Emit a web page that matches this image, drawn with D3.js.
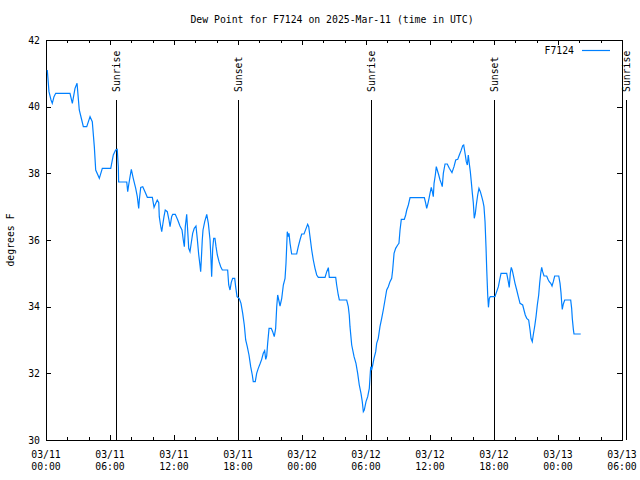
<!DOCTYPE html>
<html>
<head>
<meta charset="utf-8">
<script src="https://cdn.jsdelivr.net/npm/d3@7"></script>
<style>
  html, body { margin: 0; padding: 0; background: #fff; }
  svg { display: block; }
  text { font-family: "DejaVu Sans Mono", "Liberation Mono", monospace; font-size: 9.8px; fill: #000; }
</style>
</head>
<body>
<svg id="chart" width="640" height="480"></svg>
<script>
// ---- data ----
const title = "Dew Point for F7124 on 2025-Mar-11 (time in UTC)";
const yLabel = "degrees F";
const seriesName = "F7124";
const startTime = "2025-03-11T00:00:00Z";
const endTime = "2025-03-13T06:00:00Z";
// hours since 2025-03-11 00:00 UTC
const hours = [0.12,0.28,0.47,0.59,0.75,0.91,2.25,2.47,2.72,2.91,3.12,3.35,3.50,3.82,4.13,4.34,4.53,4.66,5.00,5.28,
  6.07,6.31,6.53,6.68,6.78,6.81,7.57,7.66,7.75,7.88,8.00,8.18,8.41,8.56,8.69,8.75,8.88,9.07,9.28,9.50,
  9.97,10.13,10.22,10.43,10.57,10.62,10.75,10.85,10.94,11.06,11.18,11.37,11.53,11.63,11.78,11.88,12.12,12.35,12.56,12.75,
  12.87,12.97,13.06,13.19,13.28,13.38,13.50,13.59,13.75,13.90,14.06,14.18,14.32,14.44,14.50,14.56,14.65,14.72,14.88,15.07,
  15.22,15.38,15.47,15.53,15.63,15.72,15.84,15.94,16.06,16.22,16.38,16.53,17.03,17.13,17.25,17.37,17.50,17.69,17.78,17.91,
  18.12,18.28,18.44,18.59,18.72,18.87,19.03,19.19,19.34,19.43,19.62,19.75,19.90,20.06,20.22,20.37,20.50,20.60,20.69,20.78,
  20.91,21.12,21.25,21.40,21.53,21.63,21.72,21.82,21.94,22.10,22.25,22.41,22.50,22.62,22.72,22.78,22.88,23.03,23.50,23.65,
  23.81,23.97,24.19,24.35,24.53,24.63,24.75,24.91,25.06,25.22,25.38,25.53,26.16,26.32,26.47,26.56,27.16,27.25,27.40,27.50,
  28.19,28.34,28.43,28.50,28.66,28.88,29.06,29.22,29.37,29.53,29.65,29.75,29.84,30.00,30.16,30.31,30.44,30.53,30.63,30.75,
  30.91,31.00,31.15,31.31,31.47,31.62,31.78,31.94,32.09,32.25,32.41,32.50,32.63,32.78,32.97,33.09,33.19,33.31,33.59,33.72,
  33.82,33.97,34.13,35.47,35.60,35.69,35.81,35.91,36.00,36.12,36.22,36.31,36.38,36.50,36.59,36.68,36.82,36.94,37.06,37.15,
  37.25,37.41,37.62,37.81,38.06,38.25,38.41,38.60,38.75,38.91,39.07,39.16,39.31,39.40,39.50,39.59,39.68,39.78,39.87,39.97,
  40.06,40.15,40.25,40.34,40.47,40.59,40.72,40.85,40.97,41.06,41.16,41.25,41.32,41.41,41.48,41.56,41.65,42.09,42.25,42.41,
  42.53,42.66,43.19,43.34,43.43,43.53,43.62,43.72,43.84,43.97,44.13,44.28,44.44,44.69,44.81,44.93,45.07,45.25,45.38,45.47,
  45.59,45.68,45.82,45.94,46.06,46.19,46.28,46.38,46.47,46.56,46.69,46.94,47.06,47.18,47.32,47.44,47.56,47.69,48.07,48.19,
  48.28,48.35,48.40,48.50,48.63,49.19,49.28,49.34,49.44,49.50,50.13];
const dewF = [41.1,40.45,40.2,40.1,40.3,40.4,40.4,40.1,40.55,40.7,39.9,39.6,39.4,39.4,39.7,39.55,38.8,38.1,37.85,38.15,
  38.15,38.55,38.7,38.72,38.2,37.74,37.74,37.45,37.65,37.9,38.12,37.85,37.55,37.3,36.95,37.2,37.58,37.6,37.45,37.28,
  37.28,36.98,37.05,37.2,37.12,36.7,36.42,36.25,36.45,36.7,36.9,36.85,36.6,36.4,36.7,36.77,36.77,36.6,36.42,36.3,
  36.0,35.8,36.4,36.77,36.3,35.75,35.65,35.85,36.2,36.35,36.42,36.05,35.55,35.23,35.05,35.4,36.0,36.3,36.55,36.77,
  36.5,36.0,35.4,34.9,35.75,36.05,36.05,35.8,35.55,35.35,35.2,35.1,35.1,34.65,34.5,34.73,34.85,34.85,34.6,34.3,
  34.24,34.1,33.8,33.45,33.0,32.8,32.55,32.2,31.95,31.75,31.75,32.0,32.15,32.28,32.42,32.6,32.68,32.42,32.52,32.9,
  33.35,33.35,33.25,33.1,33.35,34.0,34.35,34.2,34.02,34.25,34.65,34.85,35.3,36.25,36.1,36.2,35.9,35.58,35.58,35.8,
  36.0,36.18,36.18,36.32,36.47,36.4,36.1,35.7,35.4,35.15,34.95,34.88,34.88,35.05,35.17,34.88,34.88,34.65,34.35,34.2,
  34.2,34.0,33.75,33.4,32.85,32.5,32.3,32.0,31.65,31.4,31.15,30.85,30.9,31.15,31.3,31.55,32.2,32.1,32.25,32.45,
  32.65,32.9,33.05,33.4,33.65,33.9,34.2,34.5,34.6,34.75,34.85,35.1,35.6,35.75,35.85,35.9,36.3,36.62,36.62,36.75,
  36.9,37.05,37.27,37.27,37.1,36.95,37.1,37.25,37.4,37.58,37.45,37.3,37.7,37.95,38.2,38.1,37.95,37.8,37.7,37.6,
  38.0,38.28,38.28,38.15,38.02,38.2,38.4,38.42,38.55,38.68,38.83,38.85,38.55,38.35,38.25,38.55,38.3,38.05,37.75,37.4,
  37.12,36.65,36.8,37.05,37.35,37.55,37.45,37.3,37.15,37.0,36.55,35.8,35.1,34.35,33.98,34.25,34.3,34.3,34.45,34.6,
  34.8,35.0,35.0,34.75,34.58,35.0,35.18,35.08,34.9,34.7,34.5,34.3,34.1,34.05,33.9,33.75,33.65,33.6,33.3,33.05,
  32.95,33.15,33.42,33.7,34.05,34.35,34.7,35.0,35.18,35.05,34.92,34.92,34.82,34.75,34.7,34.62,34.75,34.92,34.92,34.7,
  34.42,34.1,33.92,34.08,34.2,34.2,33.95,33.65,33.32,33.18,33.18];
const yTicks = [30, 32, 34, 36, 38, 40, 42];
const xTicks = ["2025-03-11T00:00Z","2025-03-11T06:00Z","2025-03-11T12:00Z","2025-03-11T18:00Z",
  "2025-03-12T00:00Z","2025-03-12T06:00Z","2025-03-12T12:00Z","2025-03-12T18:00Z",
  "2025-03-13T00:00Z","2025-03-13T06:00Z"];
const sunLabels = ["Sunrise", "Sunset", "Sunrise", "Sunset", "Sunrise"];
const sunTimes = ["2025-03-11T06:32Z","2025-03-11T17:58Z","2025-03-12T06:28Z","2025-03-12T17:58Z","2025-03-13T06:23Z"];

// ---- chart ----
const svg = d3.select("#chart");
const M = { left: 46, right: 622, top: 40, bottom: 440 };
const t0 = new Date(startTime);
const x = d3.scaleUtc().domain([t0, new Date(endTime)]).range([M.left, M.right]);
const y = d3.scaleLinear().domain([30, 42]).range([M.bottom, M.top]);
const data = hours.map((h, i) => ({ t: new Date(t0.getTime() + h * 3600000), v: dewF[i] }));

svg.append("rect").attr("width", 640).attr("height", 480).attr("fill", "#fff");

// title
svg.append("text").attr("x", 332).attr("y", 23).attr("text-anchor", "middle").text(title);
// y label
svg.append("text").attr("transform", "translate(14,240) rotate(-90)").attr("text-anchor", "middle").text(yLabel);

const majorX = xTicks.map(s => new Date(s));
const minorX = d3.utcHour.every(2).range(t0, new Date(endTime)).filter(d => d.getUTCHours() % 6 !== 0);

function styleAxis(g) {
  g.select(".domain").remove();
  g.selectAll(".tick line").attr("stroke", "#000").attr("shape-rendering", "crispEdges");
  g.selectAll("text").attr("font-family", null).attr("font-size", null);
}

// bottom ticks
svg.append("g").attr("transform", `translate(0,${M.bottom})`)
  .call(d3.axisBottom(x).tickValues(majorX).tickSize(-5).tickFormat("")).call(styleAxis);
svg.append("g").attr("transform", `translate(0,${M.bottom})`)
  .call(d3.axisBottom(x).tickValues(minorX).tickSize(-3).tickFormat("")).call(styleAxis);
// top ticks
svg.append("g").attr("transform", `translate(0,${M.top})`)
  .call(d3.axisTop(x).tickValues(majorX).tickSize(-5).tickFormat("")).call(styleAxis);
svg.append("g").attr("transform", `translate(0,${M.top})`)
  .call(d3.axisTop(x).tickValues(minorX).tickSize(-3).tickFormat("")).call(styleAxis);
// left / right
svg.append("g").attr("transform", `translate(${M.left},0)`)
  .call(d3.axisLeft(y).tickValues(yTicks).tickSize(-5).tickPadding(6).tickFormat(d3.format("d"))).call(styleAxis);
svg.append("g").attr("transform", `translate(${M.right},0)`)
  .call(d3.axisRight(y).tickValues(yTicks).tickSize(-5).tickFormat("")).call(styleAxis);

// x labels (two lines)
const fmtD = d3.utcFormat("%m/%d"), fmtT = d3.utcFormat("%H:%M");
const xl = svg.append("g");
majorX.forEach(d => {
  const t = xl.append("text").attr("x", x(d)).attr("text-anchor", "middle");
  t.append("tspan").attr("x", x(d)).attr("y", 458).text(fmtD(d));
  t.append("tspan").attr("x", x(d)).attr("y", 470).text(fmtT(d));
});

// border
svg.append("rect").attr("x", M.left + 0.5).attr("y", M.top + 0.5)
  .attr("width", M.right - M.left).attr("height", M.bottom - M.top)
  .attr("fill", "none").attr("stroke", "#000").attr("shape-rendering", "crispEdges");

// sunrise / sunset lines
const sunG = svg.append("g");
sunTimes.forEach((s, i) => {
  const xx = Math.round(x(new Date(s))) + 0.5;
  sunG.append("line").attr("x1", xx).attr("x2", xx).attr("y1", y(30)).attr("y2", y(30 + 12 * 0.85))
    .attr("stroke", "#000").attr("shape-rendering", "crispEdges");
  sunG.append("text").attr("transform", `translate(${xx + 3.5},${y(30 + 12 * 0.87)}) rotate(-90)`)
    .attr("text-anchor", "start").text(sunLabels[i]);
});

// data line
svg.append("path").datum(data)
  .attr("fill", "none").attr("stroke", "#0080ff").attr("stroke-width", 1.2)
  .attr("d", d3.line().x(d => x(d.t)).y(d => y(d.v)));

// legend
svg.append("text").attr("x", 574).attr("y", 54).attr("text-anchor", "end").text(seriesName);
svg.append("line").attr("x1", 582).attr("x2", 610).attr("y1", 50.5).attr("y2", 50.5)
  .attr("stroke", "#0080ff").attr("stroke-width", 1.2);
</script>
</body>
</html>
